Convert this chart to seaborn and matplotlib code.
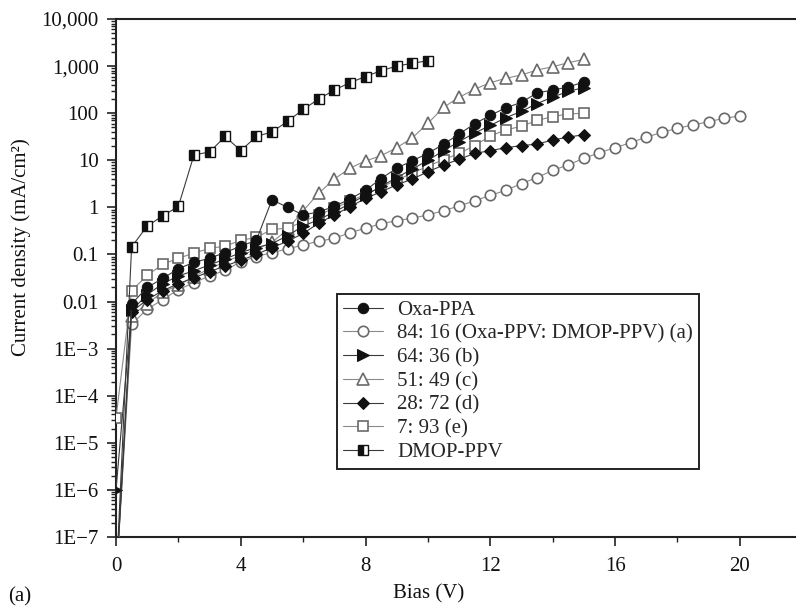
import numpy as np
import matplotlib
matplotlib.use("Agg")
import matplotlib.pyplot as plt
from matplotlib.ticker import (FixedLocator, FixedFormatter, LogLocator,
                               NullFormatter, MultipleLocator)
import seaborn as sns

# Bias steps (V)
bias = [0, 0.5, 1, 1.5, 2, 2.5, 3, 3.5, 4, 4.5, 5, 5.5, 6, 6.5, 7, 7.5, 8,
        8.5, 9, 9.5, 10, 10.5, 11, 11.5, 12, 12.5, 13, 13.5, 14, 14.5, 15,
        15.5, 16, 16.5, 17, 17.5, 18, 18.5, 19, 19.5, 20]

# Current density (mA/cm^2) for each film
oxa_ppa = [1e-8, 0.0089, 0.02, 0.031, 0.05, 0.068, 0.083, 0.11, 0.15, 0.2,
           1.45, 1.0, 0.69, 0.8, 1.05, 1.5, 2.3, 4.1, 6.8, 9.8, 14, 22, 36,
           60, 90, 130, 170, 270, 310, 360, 460]
ratio_84_16 = [1e-8, 0.0033, 0.0069, 0.011, 0.018, 0.025, 0.035, 0.046, 0.07,
               0.09, 0.11, 0.13, 0.16, 0.19, 0.22, 0.29, 0.36, 0.45, 0.52,
               0.59, 0.69, 0.85, 1.07, 1.38, 1.8, 2.3, 3.2, 4.3, 6.1, 8.0, 11,
               14.5, 18.5, 23.6, 31, 39, 48, 56, 66, 78, 87]
ratio_64_36 = [1e-6, 0.0065, 0.014, 0.024, 0.035, 0.045, 0.06, 0.08, 0.11,
               0.14, 0.17, 0.25, 0.4, 0.55, 0.8, 1.2, 1.8, 2.8, 4.3, 6.5, 10,
               16, 25, 38, 55, 80, 110, 160, 220, 290, 350]
ratio_51_49 = [1e-8, 0.005, 0.009, 0.016, 0.022, 0.034, 0.05, 0.07, 0.095,
               0.13, 0.18, 0.34, 0.85, 2.0, 4.0, 6.8, 9.7, 12.5, 18.5, 30, 61,
               133, 218, 322, 445, 550, 650, 825, 970, 1180, 1390]
ratio_28_72 = [1e-8, 0.006, 0.011, 0.017, 0.024, 0.032, 0.043, 0.057, 0.075,
               0.1, 0.14, 0.19, 0.28, 0.46, 0.69, 1.03, 1.55, 2.15, 3.0, 4.0,
               5.7, 7.9, 10.5, 14, 16, 18.5, 20.5, 22, 27, 31, 35]
ratio_7_93 = [3.4e-5, 0.017, 0.036, 0.062, 0.083, 0.107, 0.135, 0.15, 0.2,
              0.23, 0.34, 0.36, 0.5, 0.7, 0.95, 1.35, 1.9, 2.7, 3.8, 5.3, 7.5,
              10.3, 14, 20.5, 33, 44, 53, 70, 85, 96, 100]
dmop_ppv = [1e-8, 0.145, 0.4, 0.66, 1.05, 13, 15, 32, 16, 32, 40, 67, 120,
            200, 310, 445, 600, 800, 1000, 1150, 1300]

labels = ["Oxa-PPA", "84: 16 (Oxa-PPV: DMOP-PPV) (a)", "64: 36 (b)",
          "51: 49 (c)", "28: 72 (d)", "7: 93 (e)", "DMOP-PPV"]
values = [oxa_ppa, ratio_84_16, ratio_64_36, ratio_51_49, ratio_28_72,
          ratio_7_93, dmop_ppv]

ytick_vals = [1e-7, 1e-6, 1e-5, 1e-4, 1e-3, 1e-2, 1e-1, 1, 10, 100, 1000, 10000]
ytick_text = ["1E\u22127", "1E\u22126", "1E\u22125", "1E\u22124", "1E\u22123",
              "0.01", "0.1", "1", "10", "100", "1,000", "10,000"]

OPEN_EDGE = "#6a6a6a"
styles = [
    dict(marker="o", markersize=7.5, markerfacecolor="#111111",
         markeredgecolor="#111111", color="#3a3a3a"),
    dict(marker="o", markersize=7.5, markerfacecolor="white",
         markeredgecolor=OPEN_EDGE, markeredgewidth=1.2, color="#8a8a8a"),
    dict(marker=">", markersize=8, markerfacecolor="#111111",
         markeredgecolor="#111111", color="#3a3a3a"),
    dict(marker="^", markersize=9, markerfacecolor="white",
         markeredgecolor=OPEN_EDGE, markeredgewidth=1.2, color="#8a8a8a"),
    dict(marker="D", markersize=6.5, markerfacecolor="#111111",
         markeredgecolor="#111111", color="#3a3a3a"),
    dict(marker="s", markersize=7.5, markerfacecolor="white",
         markeredgecolor=OPEN_EDGE, markeredgewidth=1.2, color="#8a8a8a"),
    dict(marker="s", markersize=7, fillstyle="left", markerfacecolor="#111111",
         markerfacecoloralt="white", markeredgecolor="#111111",
         markeredgewidth=1.0, color="#3a3a3a"),
]

FS = 15

sns.set_theme(style="ticks")
plt.rcParams["font.family"] = ["Liberation Serif", "DejaVu Serif"]

fig = plt.figure(figsize=(7.96, 6.10), dpi=100)
ax = fig.add_axes([116 / 796, 1 - 537 / 610, 680 / 796, 518 / 610])
ax.set_yscale("log")

# open symbols first, filled ones on top
draw_order = [1, 3, 5, 6, 4, 2, 0]
handles = {}
for i in draw_order:
    vals = values[i]
    sns.lineplot(x=bias[:len(vals)], y=vals, ax=ax, sort=False,
                 estimator=None, legend=False, label=labels[i],
                 linewidth=0.8, zorder=3 + draw_order.index(i), **styles[i])
    handles[i] = ax.get_lines()[-1]

ax.set_xlim(0, 21.8)
ax.set_ylim(1e-7, 1e4)
ax.xaxis.set_major_locator(MultipleLocator(4))
ax.xaxis.set_minor_locator(MultipleLocator(2))
ax.yaxis.set_major_locator(FixedLocator(ytick_vals))
ax.yaxis.set_major_formatter(FixedFormatter(ytick_text))
ax.yaxis.set_minor_locator(LogLocator(base=10, subs=np.arange(2, 10),
                                      numticks=100))
ax.yaxis.set_minor_formatter(NullFormatter())

ax.tick_params(axis="both", which="major", direction="out", length=6.5,
               width=1.2, color="#222222", labelsize=FS, labelcolor="#111111")
ax.tick_params(axis="y", which="major", pad=6)
ax.tick_params(axis="x", which="major", pad=8)
ax.tick_params(axis="both", which="minor", direction="out", length=3.5,
               width=1.0, color="#222222")

for side in ["left", "bottom", "top"]:
    ax.spines[side].set_linewidth(1.5)
    ax.spines[side].set_color("#222222")
ax.spines["right"].set_visible(False)

ax.set_xlabel("Bias (V)", fontsize=FS, color="#111111")
ax.xaxis.set_label_coords(0.46, -0.092)
ax.set_ylabel("Current density (mA/cm\u00b2)", fontsize=FS, color="#111111")
ax.yaxis.set_label_coords(-0.125, 0.56)

fig.text(8 / 796, 1 - 597 / 610, "(a)", fontsize=FS, color="#111111",
         ha="left", va="center")

leg = ax.legend([handles[i] for i in range(7)], labels, loc="upper left",
                bbox_to_anchor=(0.3246, 0.469), borderaxespad=0,
                frameon=True, fancybox=False, edgecolor="#222222",
                framealpha=1, fontsize=FS, handlelength=1.9,
                handletextpad=0.7, labelspacing=0.2, borderpad=0.3)
leg.get_frame().set_linewidth(1.4)
leg.set_zorder(20)

fig.savefig("out.png", dpi=100, facecolor="white")
